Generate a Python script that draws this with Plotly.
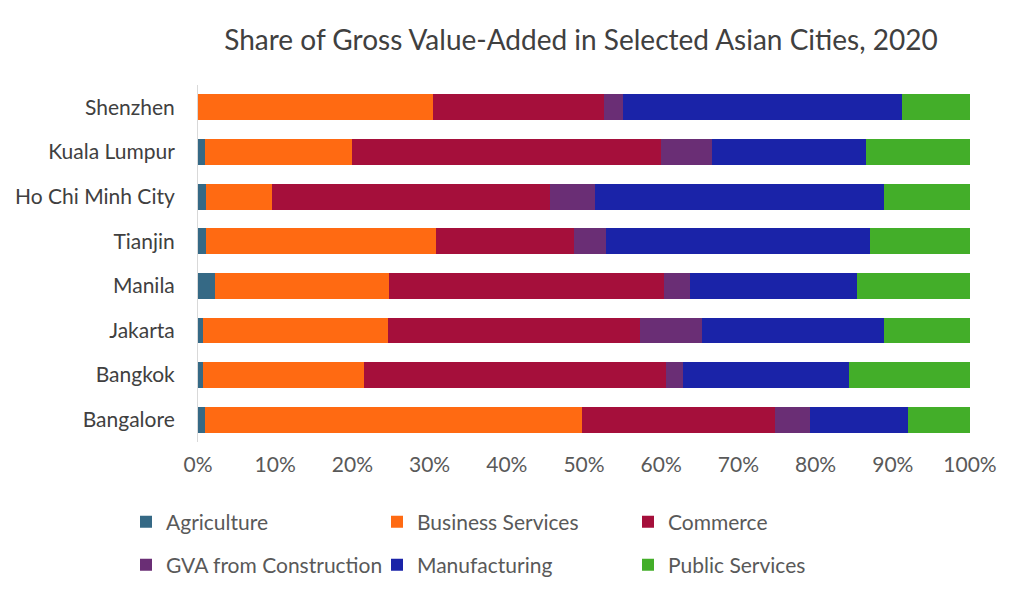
import plotly.graph_objects as go

cities = ["Shenzhen", "Kuala Lumpur", "Ho Chi Minh City", "Tianjin", "Manila", "Jakarta", "Bangkok", "Bangalore"]
agriculture = [0.0, 0.9, 1.0, 1.0, 2.2, 0.7, 0.7, 0.9]
business = [30.4, 19.0, 8.6, 29.8, 22.5, 23.9, 20.8, 48.9]
commerce = [22.2, 40.1, 36.0, 17.9, 35.6, 32.6, 39.1, 24.9]
construction = [2.5, 6.6, 5.8, 4.2, 3.4, 8.1, 2.2, 4.6]
manufacturing = [36.1, 19.9, 37.5, 34.1, 21.6, 23.6, 21.5, 12.7]
public = [8.8, 13.5, 11.1, 13.0, 14.7, 11.1, 15.7, 8.0]

series = [
    ("Agriculture", agriculture, "#356985", "legend"),
    ("Business Services", business, "#ff6a12", "legend"),
    ("Commerce", commerce, "#a50f3b", "legend"),
    ("GVA from Construction", construction, "#6a2e75", "legend2"),
    ("Manufacturing", manufacturing, "#1a23a8", "legend2"),
    ("Public Services", public, "#43ae29", "legend2"),
]

FONT = "Lato, Open Sans, sans-serif"
fig = go.Figure()
for name, vals, color, lg in series:
    fig.add_trace(go.Bar(
        y=cities, x=vals, name=name, orientation="h",
        marker=dict(color=color, line=dict(width=0)),
        legend=lg,
    ))

leg_common = dict(
    orientation="h", xref="container", yref="container",
    xanchor="left", yanchor="middle",
    font=dict(family=FONT, size=21, color="#595959"),
    entrywidth=206, entrywidthmode="pixels",
    itemwidth=30, bgcolor="rgba(0,0,0,0)", traceorder="normal",
)

fig.update_layout(
    width=1024, height=597,
    barmode="stack", bargap=0.42,
    paper_bgcolor="white", plot_bgcolor="white",
    margin=dict(l=198, r=54, t=85, b=155),
    title=dict(text="Share of Gross Value-Added in Selected Asian Cities, 2020",
               x=581/1024, xanchor="center", y=1-40/597, yanchor="middle",
               font=dict(family=FONT, size=28, color="#404040")),
    xaxis=dict(range=[0, 100], dtick=10, ticksuffix="%", showgrid=False,
               zeroline=False, showline=False, ticks="", ticklabelstandoff=8,
               tickfont=dict(family=FONT, size=21, color="#595959")),
    yaxis=dict(categoryorder="array", categoryarray=cities, autorange="reversed",
               showgrid=False, showline=True, linecolor="#d9d9d9", linewidth=1,
               ticks="", ticklabelstandoff=18,
               tickfont=dict(family=FONT, size=21, color="#404040")),
    legend=dict(x=126/1024, y=1-522/597, **leg_common),
    legend2=dict(x=126/1024, y=1-565/597, **leg_common),
)

fig.write_html("out.html", config={"displayModeBar": False},
               post_script="document.body.style.margin='0';")
